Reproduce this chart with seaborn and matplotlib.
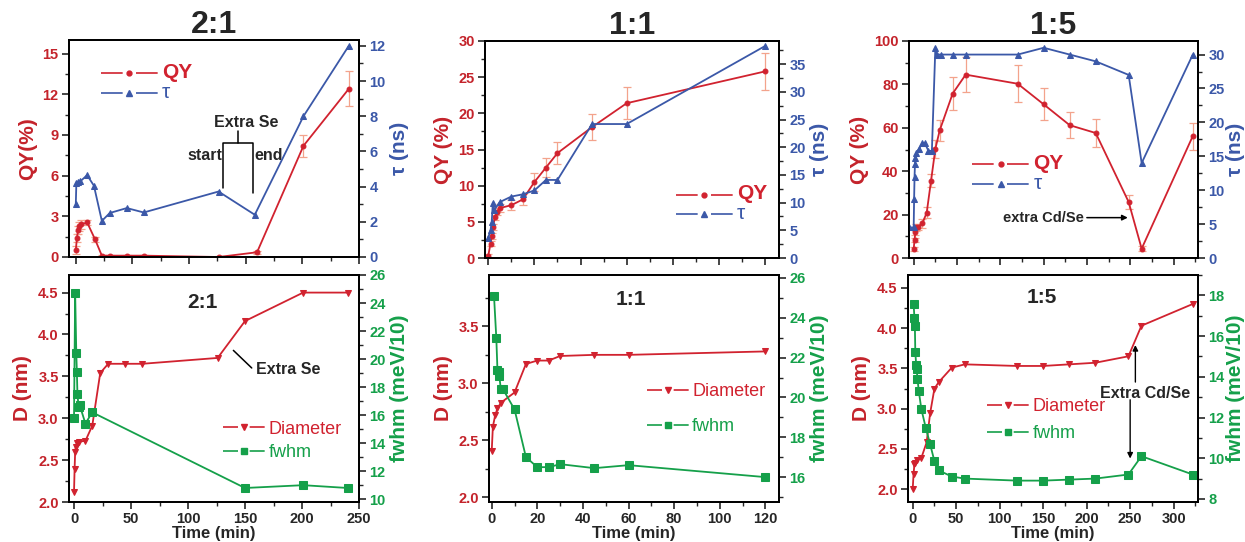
import numpy as np
import pandas as pd
import matplotlib
matplotlib.use('Agg')
import matplotlib.pyplot as plt
import seaborn as sns
from matplotlib.ticker import MultipleLocator
from matplotlib.lines import Line2D

sns.set_style('ticks')
plt.rcParams['font.family'] = ['Liberation Sans', 'DejaVu Sans']
plt.rcParams['font.weight'] = 'bold'
plt.rcParams['axes.linewidth'] = 1.3

RED = '#D1222F'
RED_LBL = '#C4232B'
BLUE = '#3B58A8'
GREEN = '#15A04A'
ERR = '#F3A38C'

# ---------------- data: 2:1 ----------------
t21_qy = [0, 1, 2, 3, 5, 10, 17, 23, 30, 45, 60, 126, 160, 201, 241]
qy21 = [0.5, 1.4, 2.0, 2.25, 2.4, 2.55, 1.3, 0.1, 0.1, 0.1, 0.1, 0.0, 0.35, 8.2, 12.4]
qy21_err = [0.3, 0.3, 0.3, 0.3, 0.3, 0.2, 0.2, 0.05, 0.05, 0.05, 0.05, 0.05, 0.1, 0.8, 1.3]
t21_tau = [0, 0.5, 2, 4, 10, 16, 23, 30, 45, 60, 126, 158, 201, 241]
tau21 = [3.0, 4.2, 4.25, 4.3, 4.65, 4.05, 2.05, 2.5, 2.78, 2.53, 3.72, 2.4, 8.0, 12.0]
t21_d = [0, 0.5, 1, 1.5, 2.5, 4, 10, 16, 23, 30, 45, 60, 126, 150, 201, 240]
d21 = [2.12, 2.39, 2.60, 2.66, 2.70, 2.72, 2.73, 2.91, 3.54, 3.65, 3.65, 3.65, 3.72, 4.16, 4.50, 4.50]
t21_fw = [0, 1, 2, 2.5, 3, 4, 5, 10, 16, 150, 201, 240]
fw21 = [15.8, 24.7, 20.4, 19.1, 17.5, 16.6, 16.7, 15.4, 16.2, 10.8, 11.0, 10.8]

# ---------------- data: 1:1 ----------------
t11_qy = [0, 1, 1.5, 2, 3, 4, 5, 10, 15, 20, 25, 30, 45, 60, 120]
qy11 = [0.3, 2.0, 3.0, 4.3, 5.7, 6.4, 6.9, 7.3, 8.1, 10.5, 12.5, 14.5, 18.1, 21.4, 25.8]
qy11_err = [0.3, 0.3, 0.4, 0.4, 0.5, 0.5, 0.5, 0.7, 0.75, 1.2, 1.3, 1.5, 1.8, 2.2, 2.6]
t11_tau = [0, 1, 1.5, 2, 2.5, 5, 10, 15, 20, 25, 30, 45, 60, 120]
tau11 = [3.7, 5.0, 6.5, 10.0, 8.6, 10.1, 11.1, 11.5, 12.2, 14.1, 14.1, 24.2, 24.2, 38.3]
t11_d = [0, 0.5, 1.5, 2.5, 4, 10, 15, 20, 25, 30, 45, 60, 120]
d11 = [2.41, 2.62, 2.72, 2.78, 2.83, 2.92, 3.17, 3.20, 3.20, 3.24, 3.25, 3.25, 3.28]
t11_fw = [1, 2, 2.5, 3, 3.3, 4, 5, 10, 15, 20, 25, 30, 45, 60, 120]
fw11 = [25.1, 23.0, 21.4, 21.3, 21.1, 20.4, 20.4, 19.4, 17.0, 16.5, 16.5, 16.65, 16.45, 16.6, 16.0]

# ---------------- data: 1:5 ----------------
t15_qy = [0, 1, 2, 3, 5, 10, 15, 20, 25, 30, 45, 60, 120, 150, 180, 210, 248, 263, 322]
qy15 = [4.2, 8.3, 12.0, 14.1, 14.3, 16.0, 20.8, 35.5, 50.3, 58.8, 75.8, 84.5, 80.3, 70.8, 61.2, 57.6, 25.8, 4.3, 56.2]
qy15_err = [1, 1, 1.5, 1.5, 1.5, 2, 2.5, 3, 4, 5, 7.7, 8, 8.6, 7.4, 6, 6.4, 3.2, 1, 6.2]
t15_tau = [-5, 0, 0.5, 1, 1.5, 2, 3, 6, 10, 13, 17, 21, 25, 27, 32, 45, 60, 120, 150, 180, 210, 248, 263, 322]
tau15 = [4.5, 4.5, 8.7, 12.0, 13.9, 14.7, 15.5, 16.1, 16.9, 16.9, 15.8, 15.8, 31.0, 30.0, 30.0, 30.0, 30.0, 30.0, 31.0, 30.0, 29.0, 27.0, 14.0, 30.0]
t15_d = [0, 1, 2, 3, 5, 10, 16, 20, 25, 30, 45, 60, 120, 150, 180, 210, 248, 263, 322]
d15 = [2.0, 2.19, 2.31, 2.33, 2.36, 2.39, 2.58, 2.94, 3.25, 3.33, 3.51, 3.55, 3.53, 3.53, 3.55, 3.57, 3.65, 4.03, 4.30]
t15_fw = [1, 2, 2.5, 3, 4, 4.5, 5.5, 7, 10, 15, 20, 25, 30, 45, 60, 120, 150, 180, 210, 248, 263, 322]
fw15 = [17.6, 16.9, 16.5, 15.2, 14.6, 14.4, 13.9, 13.3, 12.4, 11.5, 10.7, 9.85, 9.4, 9.1, 9.0, 8.9, 8.9, 8.95, 9.0, 9.2, 10.1, 9.2]

titles = ['2:1', '1:1', '1:5']

W, H = 1245, 542
fig = plt.figure(figsize=(W / 100, H / 100), dpi=100)


def box(x0, x1, ytop, ybot):
    return [x0 / W, 1 - ybot / H, (x1 - x0) / W, (ybot - ytop) / H]


def style(ax, ax2, lcol, rcol, xmaj, xmin, lmaj, lmin, rmaj, rmin, show_x):
    for a in (ax, ax2):
        a.tick_params(which='major', direction='out', length=5, width=1.2, pad=2.5)
        a.tick_params(which='minor', direction='out', length=3, width=1.0)
        for s in a.spines.values():
            s.set_visible(True)
            s.set_color('black')
            s.set_linewidth(1.3)
    ax.xaxis.set_major_locator(MultipleLocator(xmaj))
    ax.xaxis.set_minor_locator(MultipleLocator(xmin))
    ax.yaxis.set_major_locator(MultipleLocator(lmaj))
    ax.yaxis.set_minor_locator(MultipleLocator(lmin))
    ax2.yaxis.set_major_locator(MultipleLocator(rmaj))
    ax2.yaxis.set_minor_locator(MultipleLocator(rmin))
    ax.tick_params(axis='y', labelcolor=lcol, labelsize=10.5)
    ax2.tick_params(axis='y', labelcolor=rcol, labelsize=10.5)
    ax.tick_params(axis='x', labelsize=10.5, labelbottom=show_x, top=False)
    ax2.tick_params(top=False)


def leg_handle(color, marker, ms, dash):
    return Line2D([0], [0], color=color, lw=1.2, marker=marker, ms=ms,
                  linestyle=(0, dash))


def draw_line(ax, x, y, color, marker, ms):
    sns.lineplot(x=x, y=y, ax=ax, color=color, marker=marker, markersize=ms,
                 markeredgecolor=color, linewidth=1.3, estimator=None,
                 sort=False, legend=False)


# ---------- top row ----------
top_boxes = [box(69, 359, 40, 257), box(485, 779, 41, 258), box(909, 1198, 41, 258)]
top_x = [(-6, 250, 50, 25), (-1.4, 126, 20, 10), (-5.4, 328, 50, 25)]
top_qylim = [(0, 16.0), (0, 30), (0, 100)]
top_tauylim = [(0, 12.33), (0, 39.2), (0, 32.0)]
top_lt = [(3, 1.5), (5, 2.5), (20, 10)]
top_rt = [(2, 1), (5, 2.5), (5, 2.5)]
qy_sets = [(t21_qy, qy21, qy21_err), (t11_qy, qy11, qy11_err), (t15_qy, qy15, qy15_err)]
tau_sets = [(t21_tau, tau21), (t11_tau, tau11), (t15_tau, tau15)]
qy_labels = ['QY(%)', 'QY (%)', 'QY (%)']
leg_top = [dict(loc='upper left', bbox_to_anchor=(0.09, 0.92)),
           dict(loc='center left', bbox_to_anchor=(0.63, 0.25)),
           dict(loc='center left', bbox_to_anchor=(0.20, 0.39))]
tau_pad = [3, 3, 1]

top_axes = []
for i in range(3):
    ax = fig.add_axes(top_boxes[i])
    ax2 = ax.twinx()
    t, q, e = qy_sets[i]
    ax.errorbar(t, q, yerr=e, fmt='none', ecolor=ERR, elinewidth=0.9, capsize=3, capthick=0.9, zorder=1)
    draw_line(ax, t, q, RED, 'o', 3.5)
    tt, tv = tau_sets[i]
    draw_line(ax2, tt, tv, BLUE, '^', 4)
    ax.set_xlim(top_x[i][0], top_x[i][1])
    ax.set_ylim(*top_qylim[i])
    ax2.set_ylim(*top_tauylim[i])
    style(ax, ax2, RED_LBL, BLUE, top_x[i][2], top_x[i][3], top_lt[i][0], top_lt[i][1],
          top_rt[i][0], top_rt[i][1], False)
    ax.set_xlabel('')
    ax.set_ylabel(qy_labels[i], color=RED_LBL, fontsize=15, fontweight='bold', labelpad=4)
    ax2.set_ylabel('τ (ns)', color=BLUE, fontsize=15, fontweight='bold', rotation=90, labelpad=tau_pad[i])
    ax.set_title(titles[i], fontsize=23, fontweight='bold', pad=2)
    hs = [leg_handle(RED, 'o', 3.5, (13, 8)), leg_handle(BLUE, '^', 4, (13, 8))]
    lg = ax.legend(hs, ['QY', 'τ'], frameon=False, handlelength=4.1, handletextpad=0.3,
                   labelspacing=0.05, borderaxespad=0, **leg_top[i])
    txts = lg.get_texts()
    txts[0].set_color(RED)
    txts[0].set_fontsize(15)
    txts[0].set_fontweight('bold')
    txts[1].set_color(BLUE)
    txts[1].set_fontsize(15)
    txts[1].set_fontweight('normal')
    top_axes.append(ax)

# annotations top-left (bracket "Extra Se")
axA = top_axes[0]
br_x = [130, 130, 156.4, 156.4]
br_y = [5.1, 8.4, 8.4, 4.73]
axA.plot(br_x, br_y, color='black', lw=1.1)
axA.plot([143.2, 143.2], [8.4, 9.3], color='black', lw=1.1)
axA.text(150, 9.95, 'Extra Se', ha='center', va='center', fontsize=11.5, fontweight='bold')
axA.text(129, 7.45, 'start', ha='right', va='center', fontsize=11.5, fontweight='bold')
axA.text(157.6, 7.45, 'end', ha='left', va='center', fontsize=11.5, fontweight='bold')

# annotation top-right
axC = top_axes[2]
axC.annotate('extra Cd/Se', xy=(247, 18.6), xytext=(196, 18.6), ha='right', va='center',
             fontsize=10.5, fontweight='bold',
             arrowprops=dict(arrowstyle='-|>', color='black', lw=1.1, mutation_scale=8,
                             shrinkA=0, shrinkB=0))

# ---------- bottom row ----------
bot_boxes = [box(69, 359, 275, 502), box(489, 779, 275, 502), box(908, 1198, 275, 502)]
bot_x = [(-4.4, 250, 50, 25), (-1.2, 126, 20, 10), (-5.4, 328, 50, 25)]
bot_dylim = [(2.0, 4.71), (1.96, 3.95), (1.84, 4.66)]
bot_fwylim = [(9.8, 26.0), (14.75, 26.15), (7.85, 19.0)]
d_sets = [(t21_d, d21), (t11_d, d11), (t15_d, d15)]
fw_sets = [(t21_fw, fw21), (t11_fw, fw11), (t15_fw, fw15)]
sub_pos = [(0.46, 0.88), (0.49, 0.89), (0.46, 0.90)]
leg_bot = [dict(loc='center left', bbox_to_anchor=(0.507, 0.27), labelspacing=0.35),
           dict(loc='center left', bbox_to_anchor=(0.52, 0.41), labelspacing=1.0),
           dict(loc='center left', bbox_to_anchor=(0.248, 0.36), labelspacing=0.55)]
fw_pad = [3, 3, 1]

bot_axes = []
for i in range(3):
    ax = fig.add_axes(bot_boxes[i])
    ax2 = ax.twinx()
    t, d = d_sets[i]
    draw_line(ax, t, d, RED, 'v', 4.5)
    tf, fv = fw_sets[i]
    draw_line(ax2, tf, fv, GREEN, 's', 5.5)
    ax.set_xlim(bot_x[i][0], bot_x[i][1])
    ax.set_ylim(*bot_dylim[i])
    ax2.set_ylim(*bot_fwylim[i])
    style(ax, ax2, RED_LBL, GREEN, bot_x[i][2], bot_x[i][3], 0.5, 0.25, 2, 1, True)
    ax.set_xlabel('Time (min)', fontsize=12, fontweight='bold', labelpad=0)
    ax.set_ylabel('D (nm)', color=RED_LBL, fontsize=15, fontweight='bold', labelpad=4)
    ax2.set_ylabel('fwhm (meV/10)', color=GREEN, fontsize=15, fontweight='bold', rotation=90,
                   labelpad=fw_pad[i])
    ax.text(sub_pos[i][0], sub_pos[i][1], titles[i], transform=ax.transAxes, ha='center',
            va='center', fontsize=15, fontweight='bold')
    hs = [leg_handle(RED, 'v', 4.5, (9, 7)), leg_handle(GREEN, 's', 5, (9, 7))]
    lg = ax.legend(hs, ['Diameter', 'fwhm'], frameon=False, handlelength=2.3, handletextpad=0.2,
                   borderaxespad=0, prop={'size': 13, 'weight': 'normal'}, **leg_bot[i])
    lg.get_texts()[0].set_color(RED)
    lg.get_texts()[1].set_color(GREEN)
    bot_axes.append(ax)

axD = bot_axes[0]
axD.plot([139.8, 155.9], [3.81, 3.60], color='black', lw=1.1)
axD.text(188, 3.58, 'Extra Se', ha='center', va='center', fontsize=11.5, fontweight='bold')

axF = bot_axes[2]
axF.text(267, 3.19, 'Extra Cd/Se', ha='center', va='center', fontsize=11.5, fontweight='bold')
axF.annotate('', xy=(256, 3.79), xytext=(256, 3.33),
             arrowprops=dict(arrowstyle='-|>', color='black', lw=1.0, mutation_scale=8,
                             shrinkA=0, shrinkB=0))
axF.annotate('', xy=(250, 2.38), xytext=(250, 3.11),
             arrowprops=dict(arrowstyle='-|>', color='black', lw=1.0, mutation_scale=8,
                             shrinkA=0, shrinkB=0))

fig.savefig('out.png', dpi=100)
